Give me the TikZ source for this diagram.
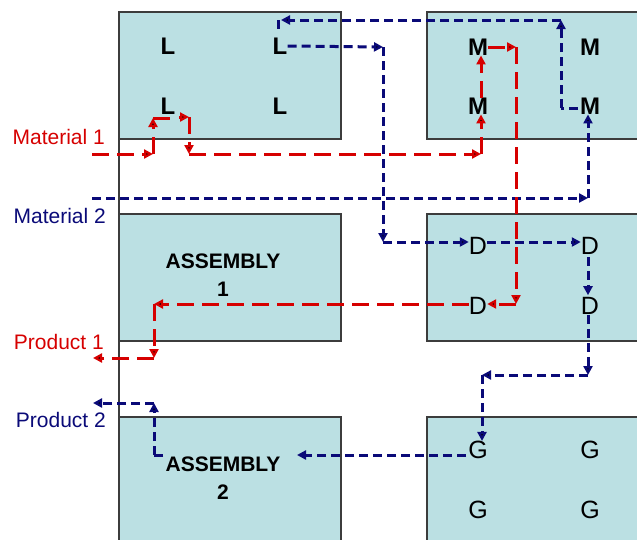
\documentclass[tikz,border=0pt]{standalone}
\usepackage{fontspec}
\setmainfont{Liberation Sans}
\usetikzlibrary{arrows.meta}

\definecolor{cellfill}{RGB}{187,224,227}
\definecolor{cellline}{RGB}{60,60,60}
\definecolor{flowred}{RGB}{214,0,0}
\definecolor{flownavy}{RGB}{10,10,120}

\tikzset{
  cell/.style={fill=cellfill, draw=cellline, line width=1.4pt},
  station/.style={font=\fontsize{24}{24}\selectfont\bfseries, inner sep=0pt},
  plainstation/.style={font=\fontsize{25}{25}\selectfont, inner sep=0pt},
  asm/.style={font=\fontsize{21}{28}\selectfont\bfseries, align=center, inner sep=0pt},
  tag/.style={font=\fontsize{21}{25}\selectfont, inner sep=0pt, anchor=base east},
  rflow/.style={draw=flowred, line width=3pt, dash pattern=on 17pt off 8pt},
  bflow/.style={draw=flownavy, line width=3pt, dash pattern=on 9pt off 5pt},
  head/.style={-{Triangle[length=9pt,width=9pt]}},
}

\begin{document}
\begin{tikzpicture}[x=1pt, y=-1pt]
  \useasboundingbox (0,0) rectangle (637,539);
  \clip (0,0) rectangle (637,539);

  % departments
  \draw[cell] (119,12) rectangle (341,139);
  \draw[cell] (427,12) rectangle (660,139);
  \draw[cell] (119,214) rectangle (341,341);
  \draw[cell] (427,214) rectangle (660,341);
  \draw[cell] (119,417) rectangle (341,560);
  \draw[cell] (427,417) rectangle (660,560);
  \draw[cellline, line width=1.4pt] (119,12) -- (119,560);

  % machines
  \node[station] (l1) at (168,46) {L};
  \node[station] (l2) at (280,46) {L};
  \node[station] (l3) at (168,106) {L};
  \node[station] (l4) at (280,106) {L};
  \node[station] (m1) at (478,47) {M};
  \node[station] (m2) at (590,47) {M};
  \node[station] (m3) at (478,106) {M};
  \node[station] (m4) at (590,106) {M};
  \node[plainstation] (d1) at (478,246) {D};
  \node[plainstation] (d2) at (590,246) {D};
  \node[plainstation] (d3) at (478,306) {D};
  \node[plainstation] (d4) at (590,306) {D};
  \node[plainstation] (g1) at (478,450) {G};
  \node[plainstation] (g2) at (590,450) {G};
  \node[plainstation] (g3) at (478,510) {G};
  \node[plainstation] (g4) at (590,510) {G};
  \node[asm] (asm1) at (223,275) {ASSEMBLY\\1};
  \node[asm] (asm2) at (223,478) {ASSEMBLY\\2};

  % labels
  \node[tag, text=flowred] (mat1) at (105,144) {Material 1};
  \node[tag, text=flownavy] (mat2) at (106,223) {Material 2};
  \node[tag, text=flowred] (prod1) at (104,349) {Product 1};
  \node[tag, text=flownavy] (prod2) at (106,427) {Product 2};

  % corners
  \coordinate (r1) at (92,154);
  \coordinate (r2) at (153,154);
  \coordinate (r3) at (153,118);
  \coordinate (r4) at (173,118);
  \coordinate (r5) at (179,117);
  \coordinate (r6) at (189,117);
  \coordinate (r7) at (189,154);
  \coordinate (r8) at (481,154);
  \coordinate (r9) at (516,47);
  \coordinate (r10) at (516,304);
  \coordinate (r11) at (154,304);
  \coordinate (r12) at (154,358);
  \coordinate (r13) at (93,358);
  \coordinate (b1) at (92,198);
  \coordinate (b2) at (588,198);
  \coordinate (b3) at (578,108);
  \coordinate (b4) at (561,108);
  \coordinate (b5) at (561,20);
  \coordinate (b6) at (278,20);
  \coordinate (b7) at (278,29);
  \coordinate (b8) at (383,47);
  \coordinate (b9) at (383,242);
  \coordinate (b10) at (588,375);
  \coordinate (b11) at (482,375);
  \coordinate (b12) at (163,455);
  \coordinate (b13) at (154,455);
  \coordinate (b14) at (154,403);
  \coordinate (b15) at (93,403);
  \coordinate (b16) at (466,455);
  \coordinate (b17) at (297,455);

  % material 2 / product 2
  \draw[bflow] (b1) edge[head] (b2) (b2) edge[head] (m4.south -| b2);
  \draw[bflow] (b3) -- (b4) edge[head] (b5) (b5) edge[head] ([xshift=3pt]b6) (b6) -- (b7);
  \draw[bflow] (l2.east) edge[head] (b8) (b8) edge[head] (b9) (b9) edge[head] (d1.west |- b9);
  \draw[bflow] (d1.east |- b9) edge[head] (d2.west |- b9);
  \draw[bflow, head] ([yshift=-2pt]d2.south -| b2) -- ([yshift=2pt]d4.north -| b2);
  \draw[bflow] (d4.south -| b2) edge[head] (b10) (b10) edge[head] (b11) (b11) edge[head] (g1.north -| b11);
  \draw[bflow, head] (b16) -- (b17);
  \draw[bflow] (b12) -- (b13) edge[head] (b14) (b14) edge[head] (b15);

  % material 1 / product 1
  \draw[rflow] (r1) edge[head] (r2) (r2) edge[head] (r3) (r3) -- (r4);
  \draw[rflow] (r5) edge[head] (r6) (r6) edge[head] (r7) (r7) edge[head] (r8) (r8) edge[head] (m3.south -| r8);
  \draw[rflow, head] (m3.north -| r8) -- (m1.south -| r8);
  \draw[rflow] (m1.east) edge[head] (r9) (r9) edge[head] (r10) (r10) edge[head] (d3.east |- r10);
  \draw[rflow] (d3.west |- r10) edge[head] (r11) (r11) edge[head] (r12) (r12) edge[head] (r13);
\end{tikzpicture}
\end{document}
